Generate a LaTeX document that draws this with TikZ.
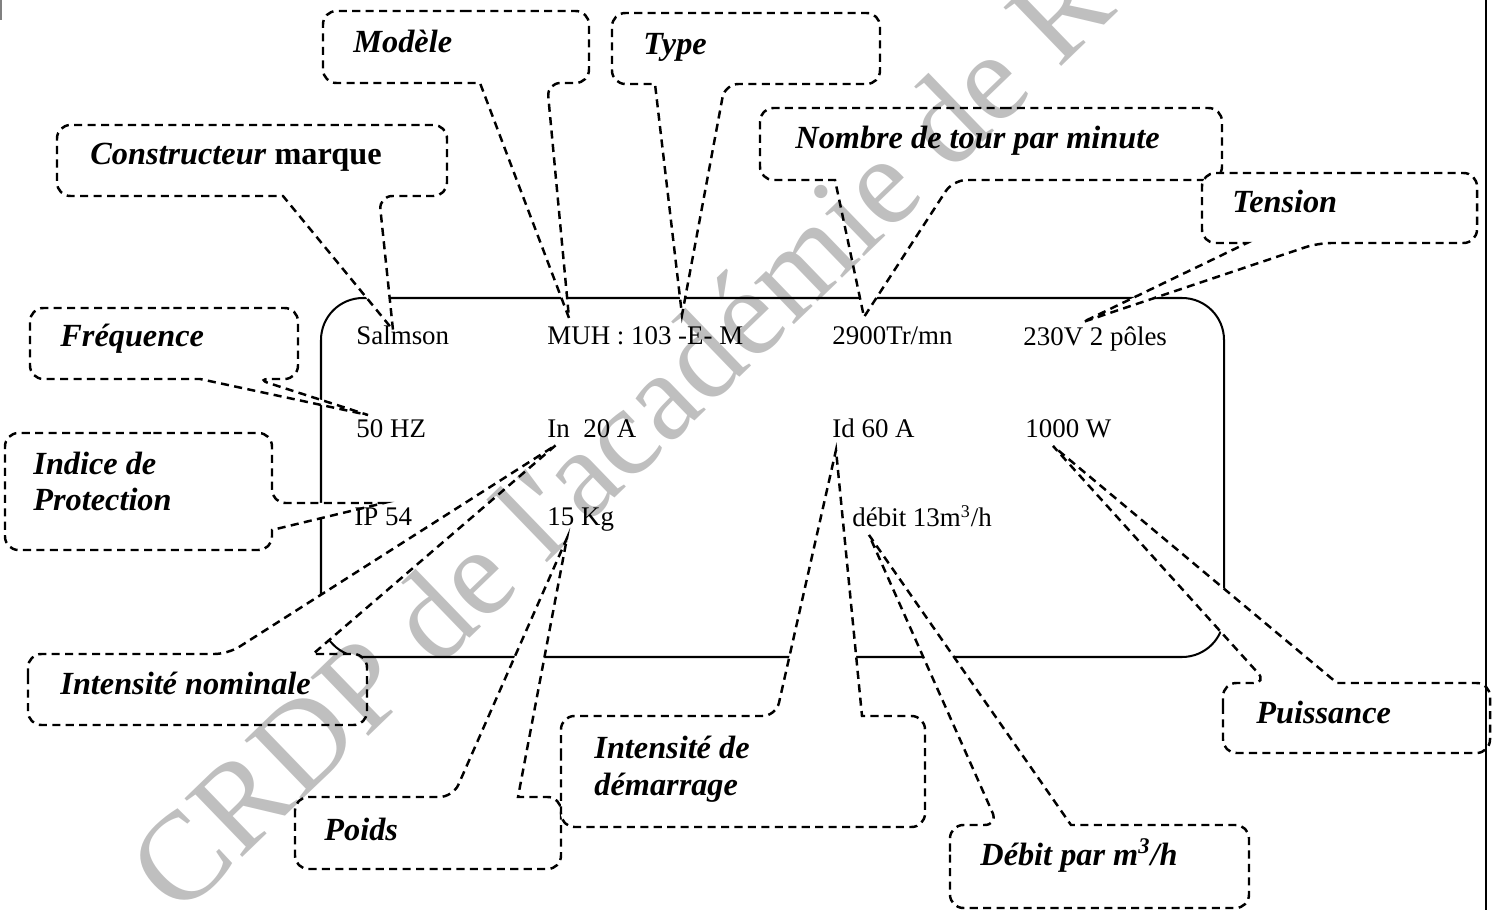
\documentclass[tikz,border=0pt]{standalone}
\usepackage{fontspec}
\setmainfont{Liberation Serif}
\usepackage{tikz}

\begin{document}
\begin{tikzpicture}[x=0.446pt, y=-0.446pt,
    val/.style={anchor=base west, inner sep=0pt, font=\fontsize{12}{14}\selectfont},
    lbl/.style={anchor=base west, inner sep=0pt, align=left, font=\fontsize{14.4}{16.5}\selectfont\bfseries\itshape},
    bulle/.style={draw, fill=white, line width=1.1pt, dash pattern=on 3.6pt off 2.4pt, rounded corners=6pt},
    cadre/.style={draw, line width=0.9pt, rounded corners=18.7pt},
    filigrane/.style={anchor=base west, inner sep=0pt, rotate=44, font=\fontsize{56}{60}\selectfont, text=black, text opacity=0.25}]
    \useasboundingbox (0,0) rectangle (1493,910);

    \draw[cadre] (321,298) rectangle (1224,657);

    \coordinate (pSalmson) at (393,330);
    \coordinate (pMuh) at (569,318);
    \coordinate (pE) at (682,315);
    \coordinate (pTours) at (864,317);
    \coordinate (pVolts) at (1083,322);
    \coordinate (pHz) at (368,415);
    \coordinate (pIp) at (384,503);
    \coordinate (pIn) at (556,445);
    \coordinate (pKg) at (567,538);
    \coordinate (pId) at (836,450);
    \coordinate (pDebit) at (869,535);
    \coordinate (pWatts) at (1053,446);

    \draw[bulle] (450,11) -- (589,11) -- (589,83) -- (547,83) [sharp corners] -- (pMuh) -- (480,83) [rounded corners=6pt] -- (323,83) -- (323,11) -- cycle;
    \draw[bulle] (740,13) -- (880,13) -- (880,84) -- (725,84) [sharp corners] -- (pE) -- (655,84) [rounded corners=6pt] -- (612,84) -- (612,13) -- cycle;
    \draw[bulle] (990,108) -- (1222,108) -- (1222,180) -- (953,180) [sharp corners] -- (pTours) -- (835,180) [rounded corners=6pt] -- (760,180) -- (760,108) -- cycle;
    \draw[bulle] (250,125) -- (447,125) -- (447,196) -- (379,196) [sharp corners] -- (pSalmson) -- (283,196) [rounded corners=6pt] -- (57,196) -- (57,125) -- cycle;
    \draw[bulle] (1340,173) -- (1477,173) -- (1477,243) -- (1318,243) [sharp corners] -- (pVolts) -- (1247,243) [rounded corners=6pt] -- (1202,243) -- (1202,173) -- cycle;
    \draw[bulle] (160,308) -- (298,308) -- (298,379) -- (256,379) [sharp corners] -- (pHz) -- (200,379) [rounded corners=6pt] -- (30,379) -- (30,308) -- cycle;
    \draw[bulle] (140,433) -- (272,433) -- (272,503) [sharp corners] -- (pIp) -- (272,530) [rounded corners=6pt] -- (272,550) -- (5,550) -- (5,433) -- cycle;
    \draw[bulle] (28,690) -- (28,654) -- (228,654) [sharp corners] -- (pIn) -- (313,654) [rounded corners=6pt] -- (367,654) -- (367,725) -- (28,725) -- cycle;
    \draw[bulle] (295,830) -- (295,797) -- (453,797) [sharp corners] -- (pKg) -- (518,797) [rounded corners=6pt] -- (561,797) -- (561,869) -- (295,869) -- cycle;
    \draw[bulle] (561,770) -- (561,716) -- (776,716) [sharp corners] -- (pId) -- (862,716) [rounded corners=6pt] -- (925,716) -- (925,827) -- (561,827) -- cycle;
    \draw[bulle] (950,865) -- (950,825) -- (998,825) [sharp corners] -- (pDebit) -- (1071,825) [rounded corners=6pt] -- (1249,825) -- (1249,908) -- (950,908) -- cycle;
    \draw[bulle] (1223,720) -- (1223,683) -- (1267,683) [sharp corners] -- (pWatts) -- (1337,683) [rounded corners=6pt] -- (1490,683) -- (1490,753) -- (1223,753) -- cycle;

    \draw[line width=0.9pt] (1486,0) -- (1486,910);
    \draw[gray, line width=0.6pt] (1,0) -- (1,20);

    \node[lbl] (modele) at (353,53) {Modèle};
    \node[lbl] (type) at (643,55) {Type};
    \node[lbl] (nombre) at (795,149) {Nombre de tour par minute};
    \node[lbl] (marque) at (90,165) {Constructeur \textup{marque}};
    \node[lbl] (tension) at (1232,213) {Tension};
    \node[lbl] (frequence) at (60,347) {Fréquence};
    \node[lbl] (indice) at (33,511) {Indice de\\Protection};
    \node[lbl] (nominale) at (60,694) {Intensité nominale};
    \node[lbl] (poids) at (324,840) {Poids};
    \node[lbl] (demarrage) at (594,795) {Intensité de\\démarrage};
    \node[lbl] (debitpar) at (980,865) {Débit par m\textsuperscript{3}/h};
    \node[lbl] (puissance) at (1256,723) {Puissance};

    \node[val] (salmson) at (356,345) {Salmson};
    \node[val] (muh) at (547,345) {MUH : 103 -E- M};
    \node[val] (tours) at (832,345) {2900Tr/mn};
    \node[val] (volts) at (1023,346) {230V 2 pôles};
    \node[val] (hz) at (356,438) {50 HZ};
    \node[val] (inom) at (547,438) {In\ \ 20 A};
    \node[val] (idem) at (832,438) {Id 60 A};
    \node[val] (watts) at (1025,438) {1000 W};
    \node[val] (ip) at (354,526) {IP 54};
    \node[val] (kg) at (547,526) {15 Kg};
    \node[val] (debit) at (852,527) {débit 13m\textsuperscript{3}/h};

    \node[filigrane] (crdp) at (179,919) {CRDP de l\textquotesingle académie de R};
\end{tikzpicture}
\end{document}
